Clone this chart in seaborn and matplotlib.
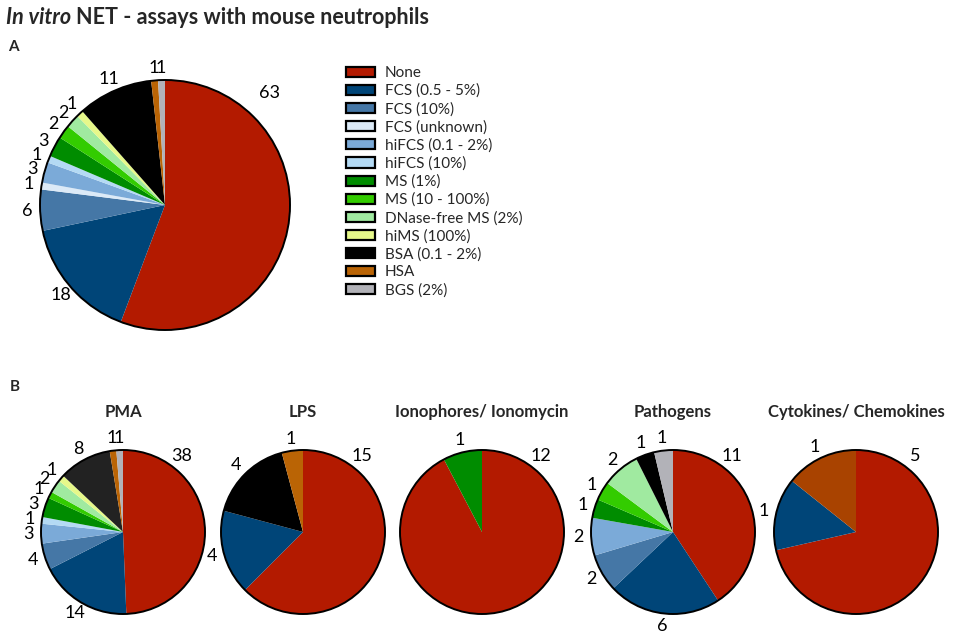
import numpy as np
import seaborn as sns
import matplotlib.pyplot as plt
from matplotlib.patches import Circle, Patch

# categories (legend order) and values
categories = ["None", "FCS (0.5 - 5%)", "FCS (10%)", "FCS (unknown)", "hiFCS (0.1 - 2%)",
              "hiFCS (10%)", "MS (1%)", "MS (10 - 100%)", "DNase-free MS (2%)", "hiMS (100%)",
              "BSA (0.1 - 2%)", "HSA", "BGS (2%)"]
all_values = [63, 18, 6, 1, 3, 1, 3, 2, 2, 1, 11, 1, 1]
pma_values = [38, 14, 4, 0, 3, 1, 3, 1, 2, 1, 8, 1, 1]
lps_values = [15, 4, 0, 0, 0, 0, 0, 0, 0, 0, 4, 1, 0]
iono_values = [12, 0, 0, 0, 0, 0, 1, 0, 0, 0, 0, 0, 0]
path_values = [11, 6, 2, 0, 2, 0, 1, 1, 2, 0, 1, 0, 1]
cyto_values = [5, 1, 0, 0, 0, 0, 0, 0, 0, 0, 0, 1, 0]
panel_b_titles = ["PMA", "LPS", "Ionophores/ Ionomycin", "Pathogens", "Cytokines/ Chemokines"]

colors = ["#B31A00", "#004578", "#4577A6", "#DCEAF7", "#7BAAD8", "#B4DAF4", "#008C00",
          "#33CC00", "#A0EAA0", "#E6F88A", "#000000", "#BA6405", "#B2B2B8"]
palette = dict(zip(categories, sns.color_palette(colors)))

sns.set_theme(style="white")
plt.rcParams['font.family'] = ['Lato', 'DejaVu Sans']

W, H = 957, 632
fig = plt.figure(figsize=(W / 100, H / 100), dpi=100)
L = 1.5


def draw_pie(cx, cy, r, values, title=None, overrides=None, fs=12.5, rlab=1.12,
             big=(38, 1.2)):
    overrides = overrides or {}
    ax = fig.add_axes([(cx - r * L) / W, 1 - (cy + r * L) / H, 2 * r * L / W, 2 * r * L / H])
    cats = [c for c, v in zip(categories, values) if v > 0]
    vals = [v for v in values if v > 0]
    cols = [overrides.get(c, palette[c]) for c in cats]
    ax.pie(vals, colors=cols, startangle=90, counterclock=False, radius=1,
           wedgeprops=dict(linewidth=0))
    ax.add_patch(Circle((0, 0), 1, fill=False, ec="black", lw=1.4))
    ax.set_xlim(-L, L)
    ax.set_ylim(-L, L)
    ax.axis('off')
    total = sum(vals)
    cum = 0
    for c, v in zip(cats, vals):
        mid = (cum + v / 2) / total * 360
        rr = rlab
        if c == "None":
            mid, rr = big
        cum += v
        ax.text(rr * np.sin(np.radians(mid)), rr * np.cos(np.radians(mid)), str(v),
                ha="center", va="center", fontsize=fs, color="black")
    if title:
        fig.text(cx / W, 1 - (cy - r - 38) / H, title, ha="center", va="center",
                 fontsize=12, fontweight="bold")
    return ax


# panel A
draw_pie(165, 205, 125, all_values, fs=13, rlab=1.1, big=(43, 1.22))
handles = [Patch(facecolor=palette[c], edgecolor="black", linewidth=1.6, label=c) for c in categories]
fig.legend(handles=handles, loc="upper left", bbox_to_anchor=(346 / W, 1 - 66 / H),
           frameon=False, fontsize=11, handlelength=1.9, handleheight=0.65,
           handletextpad=0.65, labelspacing=0.25, borderpad=0, borderaxespad=0)

# panel B
centers = [123, 303, 482, 673, 856]
series = [pma_values, lps_values, iono_values, path_values, cyto_values]
extra = [{"BSA (0.1 - 2%)": "#222222"}, {}, {}, {}, {"HSA": "#A94300"}]
for cx, vals, t, ov in zip(centers, series, panel_b_titles, extra):
    draw_pie(cx, 532, 82, vals, title=t, overrides=ov, fs=13, rlab=1.15, big=(38, 1.17))

# titles
t1 = fig.text(6 / W, 1 - 18 / H, "In vitro", fontsize=15.5, fontweight="bold", style="italic",
              va="center", ha="left")
fig.canvas.draw()
bb = t1.get_window_extent()
fig.text((bb.x1 + 5) / W, 1 - 18 / H, "NET - assays with mouse neutrophils", fontsize=15.5,
         fontweight="bold", va="center", ha="left")
fig.text(8 / W, 1 - 47 / H, "A", fontsize=11, fontweight="bold", va="center", ha="left")
fig.text(10 / W, 1 - 387 / H, "B", fontsize=11, fontweight="bold", va="center", ha="left")

fig.savefig("out.png", dpi=100)
